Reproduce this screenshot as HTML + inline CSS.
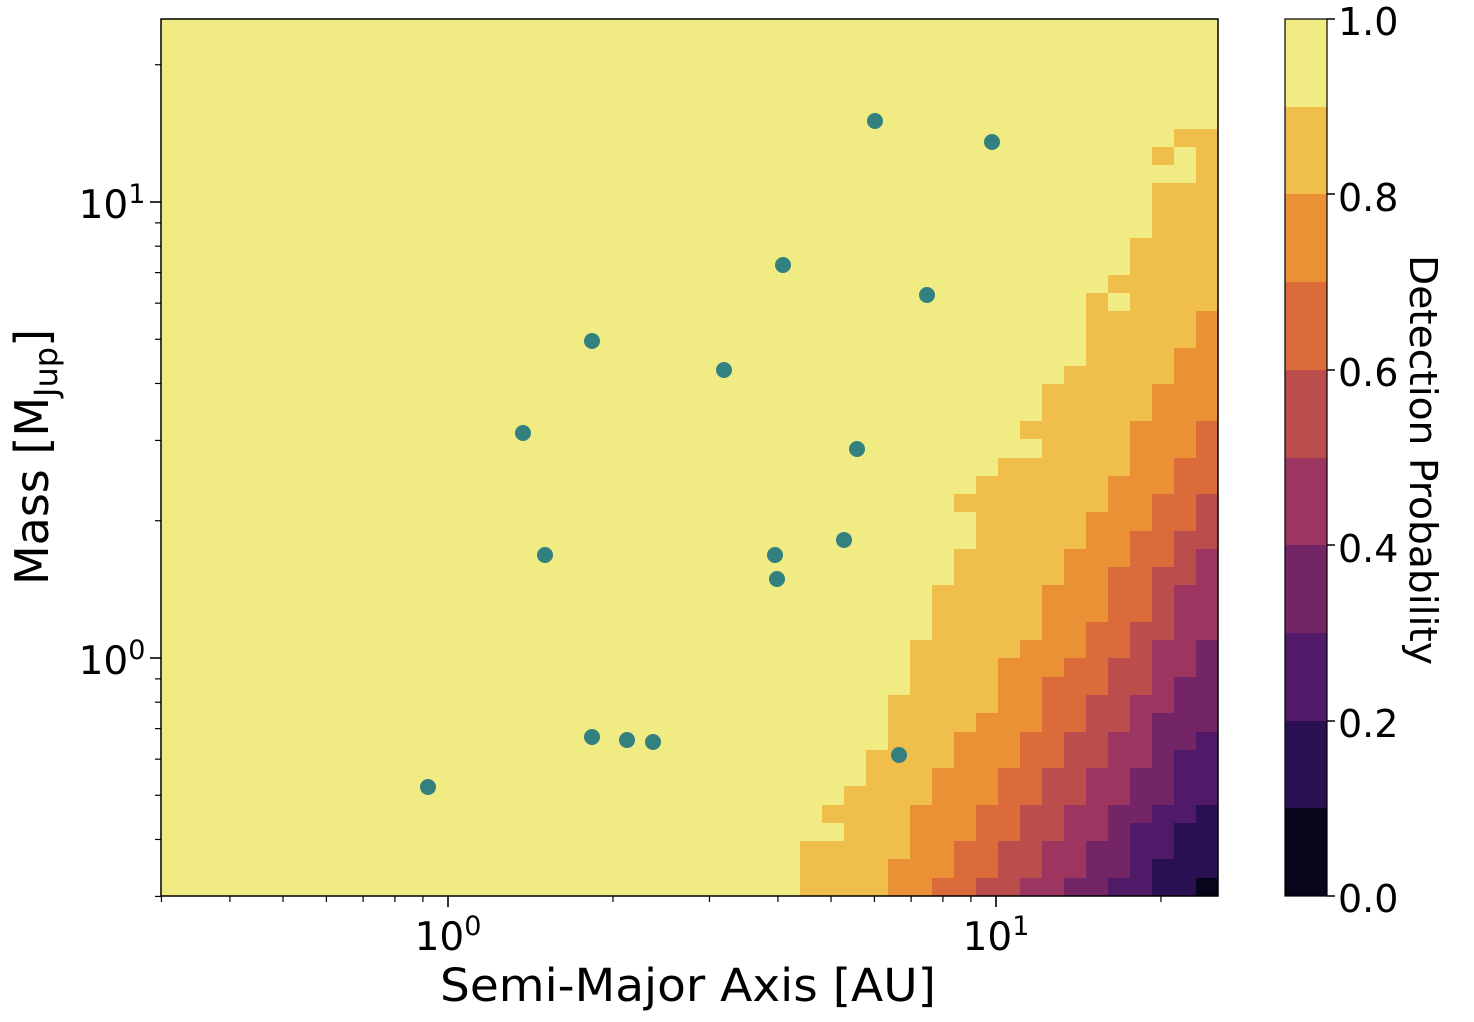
<!DOCTYPE html>
<html><head><meta charset="utf-8"><style>
html,body{margin:0;padding:0;background:#fff;}
svg{display:block;font-family:"DejaVu Sans","Liberation Sans",sans-serif;}
</style></head><body>
<svg id="s" width="1474" height="1022" viewBox="0 0 1474 1022" xmlns="http://www.w3.org/2000/svg">
<rect x="0" y="0" width="1474" height="1022" fill="#fff"/>
<g id="cells" shape-rendering="crispEdges"></g>
<g id="dots" fill="#338080"></g>
<rect x="161" y="19" width="1057" height="877" fill="none" stroke="#000" stroke-width="1.5"/>
<g id="ticks" stroke="#000"></g>
<g font-size="39" fill="#000">
<text x="448" y="950" text-anchor="middle">10<tspan font-size="27" dy="-15">0</tspan></text>
<text x="996" y="950" text-anchor="middle">10<tspan font-size="27" dy="-15">1</tspan></text>
<text x="112" y="218" text-anchor="middle">10<tspan font-size="27" dy="-15">1</tspan></text>
<text x="112" y="674" text-anchor="middle">10<tspan font-size="27" dy="-15">0</tspan></text>
</g>
<text x="688" y="1001" font-size="45" text-anchor="middle" textLength="496" lengthAdjust="spacingAndGlyphs">Semi-Major Axis [AU]</text>
<text transform="translate(48,457) rotate(-90)" font-size="46" text-anchor="middle">Mass [M<tspan font-size="32" dy="9">Jup</tspan><tspan dy="-9">]</tspan></text>
<g id="cbar" shape-rendering="crispEdges"></g>
<rect x="1285" y="19" width="42" height="877" fill="none" stroke="#000" stroke-width="1.2"/>
<g font-size="38" fill="#000">
<text x="1338" y="35">1.0</text>
<text x="1338" y="211">0.8</text>
<text x="1338" y="386">0.6</text>
<text x="1338" y="562">0.4</text>
<text x="1338" y="737">0.2</text>
<text x="1338" y="912">0.0</text>
</g>
<text transform="translate(1410,460) rotate(90)" font-size="38" text-anchor="middle" textLength="410" lengthAdjust="spacingAndGlyphs">Detection Probability</text>
</svg>
<script>
var NS="http://www.w3.org/2000/svg";
var cols=["#07051a","#2a1052","#501a68","#732566","#9c3660","#bb4d4d","#db6b3b","#ea9035","#f0be4a","#f0ec83"];
function R(a){var o=[];for(var i=0;i<48;i++)o.push(i<a.length?a[i]:48);return o;}
var s8=R([29,29,29,31,30,31,32,32,33,33,33,34,34,34,35,35,35,36,36,37,37,36,37,38,40,39,40,40,41,42,42,42,42,43,44,44,45,45,45,47,45,46]);
var s7=R([33,33,34,34,34,35,35,36,36,37,38,38,38,39,40,40,40,41,41,42,42,43,43,44,44,44,45,45,46,46,47,47]);
var s6=R([35,36,36,37,37,38,38,39,39,40,40,40,41,42,42,43,43,43,44,44,45,45,46,46,47,47]);
var s5=R([37,38,38,39,39,40,40,41,41,42,42,43,43,44,44,45,45,45,46,46,47,47]);
var s4=R([39,40,40,41,41,42,42,43,43,44,44,45,45,45,46,46,46,47,47]);
var s3=R([41,42,42,43,43,44,44,45,45,45,46,46,47,47]);
var s2=R([43,44,44,44,45,46,46,46,47]);
var s1=R([45,45,46,46,47]);
var s0=R([47]);
var S=[s0,s1,s2,s3,s4,s5,s6,s7,s8];
var g=document.getElementById("cells");
var cw=1057/48, ch=877/48;
for(var r=0;r<48;r++){for(var c=0;c<48;c++){
 var lv=9;for(var k=0;k<9;k++){if(c>=S[k][r]){lv=k;break;}}
 if((r==32&&c==43)||(r==40&&c==46))lv=9;
 var e=document.createElementNS(NS,"rect");
 var x0=Math.round(161+c*cw),x1=Math.round(161+(c+1)*cw);
 var y1=Math.round(896-r*ch),y0=Math.round(896-(r+1)*ch);
 e.setAttribute("x",x0);e.setAttribute("y",y0);e.setAttribute("width",x1-x0);e.setAttribute("height",y1-y0);
 e.setAttribute("fill",cols[lv]);g.appendChild(e);}}
var cb=document.getElementById("cbar");
for(var k=0;k<10;k++){var e=document.createElementNS(NS,"rect");
 var y1=Math.round(896-k*87.7),y0=Math.round(896-(k+1)*87.7);
 e.setAttribute("x",1285);e.setAttribute("y",y0);e.setAttribute("width",42);e.setAttribute("height",y1-y0);e.setAttribute("fill",cols[k]);cb.appendChild(e);}
var pts=[[875,121],[992,142],[783,265],[927,295],[592,341],[724,370],[523,433],[857,449],[545,555],[775,555],[844,540],[777,579],[592,737],[627,740],[653,742],[899,755],[428,787]];
var d=document.getElementById("dots");
pts.forEach(function(p){var e=document.createElementNS(NS,"circle");e.setAttribute("cx",p[0]);e.setAttribute("cy",p[1]);e.setAttribute("r",8);d.appendChild(e);});
var t=document.getElementById("ticks");
function L(x1,y1,x2,y2,w){var e=document.createElementNS(NS,"line");e.setAttribute("x1",x1);e.setAttribute("y1",y1);e.setAttribute("x2",x2);e.setAttribute("y2",y2);e.setAttribute("stroke-width",w);t.appendChild(e);}
var xd=548,x0=448,yd=456,y0=658;
var vals=[0.3,0.4,0.5,0.6,0.7,0.8,0.9,2,3,4,5,6,7,8,9,20];
vals.forEach(function(v){var x=x0+Math.log10(v)*xd;if(x>=160&&x<=1219)L(x,896,x,902,1.2);var y=y0-Math.log10(v)*yd;if(y>=18&&y<=897)L(161,y,155,y,1.2);});
[1,10].forEach(function(v){var x=x0+Math.log10(v)*xd;L(x,896,x,907,1.6);var y=y0-Math.log10(v)*yd;L(161,y,150,y,1.6);});
[19,194,370,545,721,896].forEach(function(y){L(1327,y,1335,y,1.5);});
</script>
</body></html>
